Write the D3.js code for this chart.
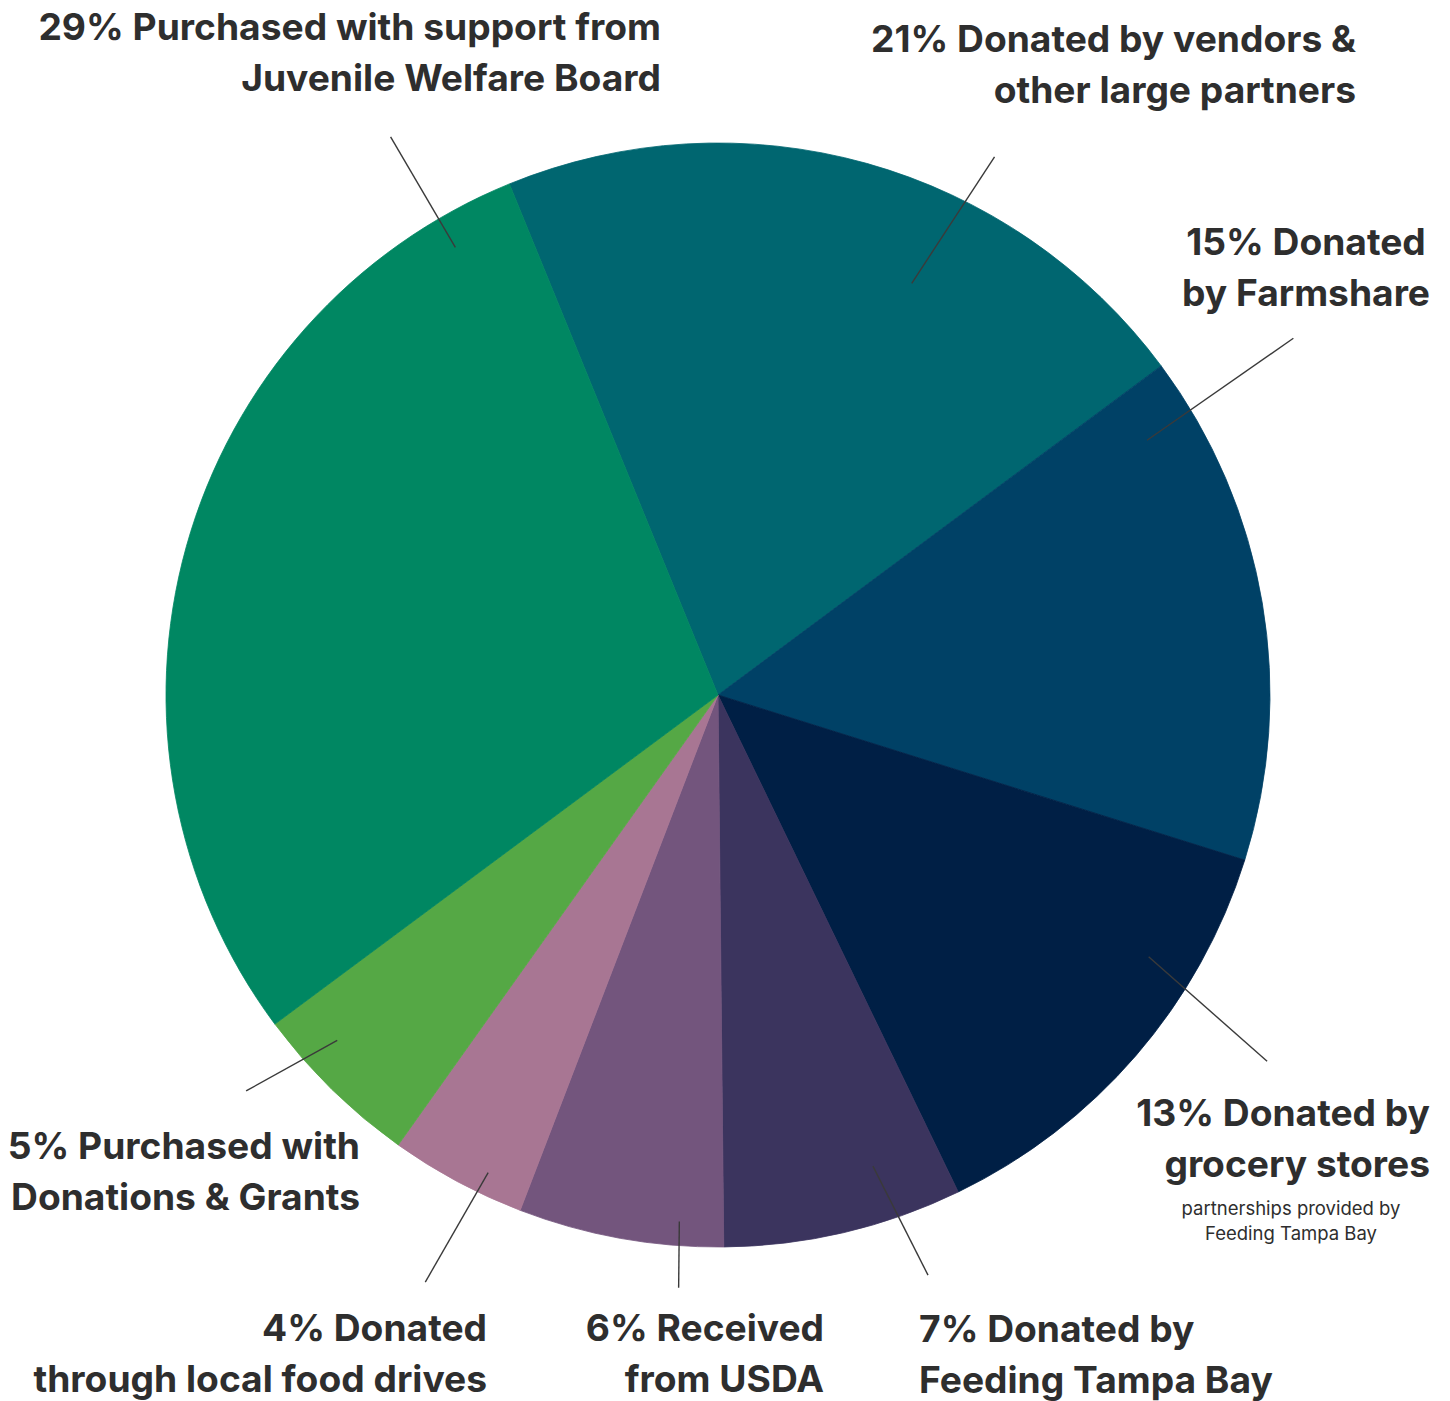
<!DOCTYPE html>
<html>
<head>
<meta charset="utf-8">
<script src="https://cdn.jsdelivr.net/npm/d3@7"></script>
<style>
  html, body { margin: 0; padding: 0; background: #ffffff; }
  svg { display: block; }
  text { font-family: Inter, "Noto Sans", sans-serif; fill: #2e2e2e; }
</style>
</head>
<body>
<svg id="chart" width="1450" height="1401"></svg>
<script>
// ---- data ----
const categories = [
  "Donated by vendors & other large partners",
  "Donated by Farmshare",
  "Donated by grocery stores",
  "Donated by Feeding Tampa Bay",
  "Received from USDA",
  "Donated through local food drives",
  "Purchased with Donations & Grants",
  "Purchased with support from Juvenile Welfare Board"
];
const values = [21, 15, 13, 7, 6, 4, 5, 29];
const colors = ["#006670", "#004166", "#001f45", "#3b345e", "#73557d", "#a87693", "#55a845", "#008762"];
const labelLines = [
  ["21% Donated by vendors &", "other large partners"],
  ["15% Donated", "by Farmshare"],
  ["13% Donated by", "grocery stores"],
  ["7% Donated by", "Feeding Tampa Bay"],
  ["6% Received", "from USDA"],
  ["4% Donated", "through local food drives"],
  ["5% Purchased with", "Donations & Grants"],
  ["29% Purchased with support from", "Juvenile Welfare Board"]
];
const subLines = ["partnerships provided by", "Feeding Tampa Bay"];

// ---- layout ----
const cx = 718, cy = 695, R = 552;
const startDeg = -22.2;
const deg = d => d * Math.PI / 180;

// label anchor (x, first baseline y, text-anchor) per slice
const labelPos = [
  {x: 1356, y: 52, anchor: "end"},
  {x: 1306, y: 255, anchor: "middle"},
  {x: 1430, y: 1126, anchor: "end"},
  {x: 919, y: 1342, anchor: "start"},
  {x: 824, y: 1341, anchor: "end"},
  {x: 487, y: 1341, anchor: "end"},
  {x: 360, y: 1159, anchor: "end"},
  {x: 661, y: 40, anchor: "end"}
];
// leader lines in polar form: [innerAngleDeg, innerR, outerAngleDeg, outerR]
const leaders = [
  [25.2, 455, 27.2, 605],
  [59.3, 499, 58.2, 677],
  [121.3, 504, 123.7, 660],
  [161.8, 496, 160.1, 617],
  [184.2, 528, 183.8, 594],
  [205.7, 530, 206.5, 656],
  [227.8, 514, 230.0, 616],
  [-30.4, 519, -30.4, 647]
];

const svg = d3.select("#chart");
const g = svg.append("g").attr("transform", `translate(${cx},${cy})`);

const pie = d3.pie().sort(null).value(d => d)
  .startAngle(deg(startDeg)).endAngle(deg(startDeg + 360));
const arc = d3.arc().innerRadius(0).outerRadius(R);

g.selectAll("path.slice")
  .data(pie(values))
  .join("path")
  .attr("class", "slice")
  .attr("d", arc)
  .attr("fill", (d, i) => colors[i])
  .attr("stroke", (d, i) => colors[i])
  .attr("stroke-width", 0.8)
  .attr("stroke-linejoin", "round");

const polar = (a, r) => [r * Math.sin(deg(a)), -r * Math.cos(deg(a))];

g.selectAll("line.leader")
  .data(leaders)
  .join("line")
  .attr("class", "leader")
  .attr("x1", d => polar(d[0], d[1])[0])
  .attr("y1", d => polar(d[0], d[1])[1])
  .attr("x2", d => polar(d[2], d[3])[0])
  .attr("y2", d => polar(d[2], d[3])[1])
  .attr("stroke", "#3a3a3a")
  .attr("stroke-width", 1.4);

const lineGap = 51;
labelLines.forEach((lines, i) => {
  const p = labelPos[i];
  const t = svg.append("text")
    .attr("text-anchor", p.anchor)
    .attr("font-size", 37.2)
    .attr("font-weight", 700);
  lines.forEach((s, j) => {
    t.append("tspan").attr("x", p.x).attr("y", p.y + j * lineGap).text(s);
  });
});

// sub note under grocery stores label
const sub = svg.append("text")
  .attr("text-anchor", "middle")
  .attr("font-size", 18.5)
  .attr("font-weight", 400);
subLines.forEach((s, j) => {
  sub.append("tspan").attr("x", 1291).attr("y", 1215 + j * 25).text(s);
});
</script>
</body>
</html>
